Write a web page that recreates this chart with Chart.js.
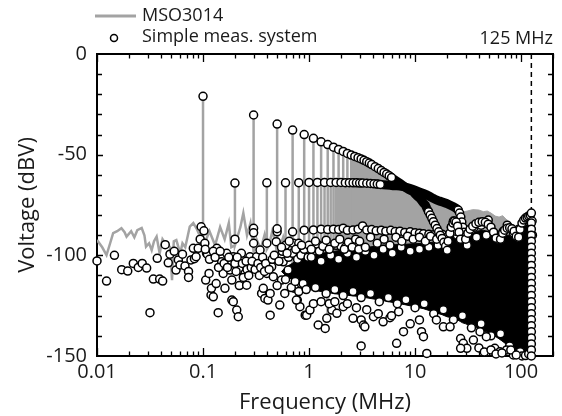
<!DOCTYPE html>
<html>
<head>
<meta charset="utf-8">
<script src="https://cdn.jsdelivr.net/npm/chart.js@4.4.1/dist/chart.umd.min.js"></script>
<style>
  html, body { margin: 0; padding: 0; background: #fff; }
</style>
</head>
<body>
<canvas id="spectrum" width="562" height="416"></canvas>
<script>
// axis ticks
const tickF = [0.01, 0.1, 1, 10, 100];
const tickDb = [0, -50, -100, -150];
const markerF = 125;

// MSO3014: noise floor below the fundamental
const msoNoiseF = [0.01, 0.0112, 0.0123, 0.0133, 0.0142, 0.0155, 0.017, 0.0182, 0.019, 0.021, 0.0225, 0.024, 0.0264, 0.028, 0.029, 0.031, 0.0328, 0.0345, 0.0365, 0.039, 0.0415, 0.044, 0.047, 0.049, 0.051, 0.053, 0.056, 0.061, 0.064, 0.068, 0.072, 0.075, 0.081, 0.087, 0.091, 0.094, 0.097];
const msoNoiseDb = [-92.4, -96, -99.9, -94, -89, -88, -86.5, -88.5, -90.7, -88, -91, -87.5, -86.4, -90, -95.7, -94, -97.4, -93, -90.7, -99, -92, -94, -95, -96, -112.3, -93, -92.4, -99, -94, -96, -90, -85.8, -84, -86.7, -89, -89, -94];

// MSO3014: harmonic lines 0.1 .. 2.5 MHz (peak and bottom of each line)
const harmF = [0.1, 0.2, 0.3, 0.4, 0.5, 0.6, 0.7, 0.8, 0.9, 1.0, 1.1, 1.2, 1.3, 1.4, 1.5, 1.6, 1.7, 1.8, 1.9, 2.0, 2.1, 2.2, 2.3, 2.4, 2.5];
const harmDb = [-21, -64.1, -30.3, -64, -34.8, -64, -37.8, -63.9, -40, -63.8, -41.9, -63.8, -43.6, -63.8, -45, -63.8, -46.3, -63.8, -47.4, -63.8, -48.4, -63.9, -49.4, -63.9, -50.2];
const harmBase = [-96, -95, -98, -97, -100, -96, -104, -125, -99, -98, -100, -97, -99, -98, -131, -100, -99, -97, -101, -99, -100, -98, -99, -100, -99];
const msoFloorF = [0.115, 0.13, 0.145, 0.16, 0.175, 0.185, 0.225, 0.24, 0.26, 0.28, 0.32, 0.35, 0.38, 0.42, 0.45, 0.48, 0.53, 0.57, 0.63, 0.67, 0.73, 0.77, 0.85, 0.95, 1.05, 1.15, 1.25, 1.35, 1.45, 1.55, 1.65, 1.75, 1.85, 1.95, 2.05, 2.15, 2.25, 2.35, 2.45];
const msoFloorDb = [-88, -95, -86, -92, -84, -96, -86, -79, -90, -84, -92, -97, -90, -95, -88, -93, -96, -91, -97, -92, -95, -98, -97, -96, -98, -97, -99, -97, -98, -99, -98, -99, -99, -98, -99, -100, -99, -98, -99];

// MSO3014: top of the dense band of harmonics above 2.5 MHz
const msoBandF = [2.5, 2.9, 3.5, 4.2, 5.0, 6.0, 7.2, 8.3, 9.6, 10.4, 11.5, 12.9, 14.5, 16, 18, 20, 22, 24, 26, 28, 31, 35, 40, 44, 48, 52, 57, 62, 67, 72, 76, 80, 84, 88, 92];
const msoBandDb = [-50.2, -51.5, -53.5, -56, -58.5, -61.4, -64.2, -66.7, -68.4, -68.5, -69.5, -70.5, -71.5, -72.5, -73.5, -74.3, -75.2, -76, -77, -78.5, -78, -77.3, -77.5, -78.3, -78, -79, -80.5, -81, -80.3, -82, -83, -84.5, -85.5, -87, -90];

// Simple meas. system: odd harmonics (separate points)
const oddF = [0.1, 0.3, 0.5, 0.7, 0.9, 1.1, 1.3, 1.5, 1.7, 1.9, 2.1, 2.3, 2.5, 2.7, 2.9, 3.1, 3.3, 3.5, 3.7, 3.9, 4.2, 4.5, 4.8, 5.1, 5.4, 5.7, 6.0, 13.4, 13.9, 14.4, 14.9, 15.5, 16.1, 16.7, 17.3, 18.0, 18.7, 19.4, 20.1];
const oddDb = [-21, -30.3, -34.8, -37.8, -40, -41.9, -43.6, -45, -46.3, -47.4, -48.4, -49.4, -50.2, -50.9, -51.5, -52.1, -52.8, -53.5, -54.2, -54.9, -56, -56.9, -57.9, -58.8, -59.6, -60.5, -61.4, -78.3, -80, -81.6, -83.3, -85, -86.7, -88.3, -90, -91.6, -93.5, -95.5, -97.5];
// odd harmonics where the points merge into a solid band
const oddBandF = [5.7, 6.0, 6.4, 6.8, 7.2, 7.6, 8.0, 8.4, 8.8, 9.2, 9.6, 10.0, 10.5, 11.1, 11.6, 12.0, 12.5, 12.9, 13.4];
const oddBandDb = [-60.5, -61.4, -62.4, -63.4, -64.2, -65.1, -66, -66.8, -67.4, -67.9, -68.4, -69.5, -70.6, -71.7, -73, -74, -75, -76.6, -78.3];

// Simple meas. system: even harmonics (separate points)
const evenF = [0.2, 0.4, 0.6, 0.8, 1.0, 1.2, 1.4, 1.6, 1.8, 2.0, 2.2, 2.4, 2.6, 2.8, 3.0, 3.2, 3.5, 3.8, 4.1, 4.4, 4.7, 25.5, 26.3, 27, 27.6, 28.2, 28.8, 29.4];
const evenDb = [-64.1, -64, -64, -63.9, -63.8, -63.8, -63.8, -63.8, -63.8, -63.8, -63.9, -63.9, -64, -64, -64.1, -64.1, -64.2, -64.3, -64.5, -64.6, -64.8, -77.5, -79, -81, -83.5, -86, -88.5, -91];
// even harmonics where the points merge into a solid band
const evenBandF = [4.4, 4.7, 5.0, 5.4, 5.8, 6.2, 6.7, 7.2, 7.7, 8.3, 8.9, 9.6, 10.4, 11.1, 12.0, 12.9, 13.8, 14.8, 15.9, 17.1, 18.4, 19.8, 21.3, 23.0, 24.3, 25.5];
const evenBandDb = [-64.6, -64.8, -64.9, -65.1, -65.2, -65.4, -65.5, -65.6, -65.9, -66.3, -66.7, -67.3, -68, -68.6, -69.3, -70, -70.8, -71.7, -72.5, -73.1, -73.6, -74.2, -75, -75.8, -76.6, -77.5];

// Simple meas. system: leakage rows next to the harmonics
const leakF = [0.096, 0.102, 0.3, 0.3, 0.5, 0.5, 0.7, 0.9, 1.1, 1.3, 1.5, 1.7, 1.9, 2.1, 2.3, 2.6, 2.9, 3.2, 3.5, 3.9, 4.3, 4.8, 5.3, 5.9, 6.5, 7.2, 8, 9, 10, 11, 12, 13.5, 15,
  0.2, 0.4, 0.6, 0.8, 1.0, 1.2, 1.4, 1.6, 1.8, 2.0, 2.2, 2.4];
const leakDb = [-85.8, -87.8, -86.6, -88.8, -88.3, -86.8, -88.3, -87.5, -87.4, -87, -87.2, -87, -87.2, -86.5, -87.6, -87.4, -87, -85.4, -87.4, -87.2, -87.8, -87.5, -88, -87.6, -88.2, -88, -88.6, -88.3, -88.8, -89, -89.3, -89.5, -89.8,
  -92, -94, -95, -94, -95, -94.5, -95, -95.5, -95, -95.5, -96, -95.8];

// Simple meas. system: scattered noise points below 1 MHz
const lowF = [0.01, 0.0123, 0.0146, 0.0171, 0.0195, 0.022, 0.0245, 0.0267, 0.0294, 0.0316, 0.034, 0.037, 0.039, 0.0416, 0.044, 0.047, 0.0488, 0.0535, 0.0556, 0.0585, 0.0607, 0.064, 0.0676, 0.073, 0.073, 0.077, 0.081, 0.083, 0.086, 0.09, 0.094,
  0.104, 0.106, 0.108, 0.11, 0.114, 0.119, 0.12, 0.125, 0.133, 0.135, 0.139, 0.15, 0.155, 0.161, 0.167, 0.18, 0.187, 0.187, 0.193, 0.193, 0.208, 0.215, 0.22, 0.22, 0.23, 0.249, 0.258, 0.267, 0.277, 0.3, 0.32, 0.345, 0.357, 0.37, 0.383, 0.4, 0.41, 0.43, 0.43, 0.444, 0.46, 0.49, 0.53, 0.55, 0.57, 0.59, 0.635, 0.71, 0.73, 0.775,
  0.105, 0.115, 0.125, 0.13, 0.14, 0.145, 0.158, 0.17, 0.175, 0.2, 0.205, 0.21, 0.235, 0.24, 0.255, 0.26, 0.27, 0.285, 0.29, 0.31, 0.33, 0.34, 0.35, 0.365, 0.38, 0.39, 0.42, 0.45,
  0.47, 0.5, 0.52, 0.56, 0.6, 0.64, 0.68, 0.7, 0.74, 0.78, 0.8, 0.84, 0.88, 0.9, 0.94, 0.98];
const lowDb = [-102.8, -112.8, -100, -107.1, -107.8, -104, -106, -104, -106.3, -128.5, -111.8, -101.5, -111.8, -112.8, -94.7, -103.7, -99.4, -98, -107.3, -102.3, -104.8, -99.4, -105.3, -108, -111, -102.3, -96.5, -101.7, -100.7, -96.5, -92,
  -94, -112.3, -99, -99.4, -109, -119.7, -116.4, -120.6, -114, -96.5, -128.5, -103.2, -109, -116.4, -99, -107.3, -112.3, -122.2, -100.7, -123, -127.2, -130.5, -107.3, -115, -99, -109, -114.8, -104, -100.7, -94, -100.7, -97.4, -118.9, -116.4, -121.4, -109, -122.2, -129.7, -118.9, -105.7, -110.6, -93.2, -124.7, -112.3, -103.2, -118.9, -107.3, -94, -116.4, -122.2,
  -97, -102, -98, -101, -106, -98, -104, -106, -101, -104, -108, -101, -104, -111, -103, -107, -110, -106, -103, -107, -104, -110, -106, -101, -108, -104, -107, -102,
  -100, -115, -103, -98, -112, -101, -116, -99, -113, -102, -118, -100, -114, -97, -117, -101];

// Simple meas. system: scattered points around the dense noise cloud
const fringeF = [0.82, 0.92, 0.95, 1.02, 1.22, 1.42, 1.47, 1.64, 1.83, 2.1, 2.6, 3.1, 3.26, 3.1, 3.36, 4.05, 5, 5.8, 6.7, 7.78, 9, 11, 11.5, 12, 12.9, 15.9, 18.5, 21.4, 26.9, 28.5, 30.8, 26.9, 35.5, 41, 47, 56.5, 63, 73, 84.5, 98, 102, 40, 45, 52, 58, 66, 80, 90, 110, 118,
  0.76, 1.1, 1.3, 1.55, 1.75, 2.3, 2.8, 3.5, 4.5, 6, 7,
  0.55, 0.62, 0.65, 0.75, 0.85, 1.05, 1.15, 1.25, 1.35, 1.45, 1.55, 1.75, 1.95, 2.15, 2.35, 2.55, 2.75, 2.95,
  3.0, 3.4, 3.8, 4.4, 5.1, 5.8, 6.6, 7.5, 8.5, 9.6, 11, 12.5, 14, 16, 18, 20, 22, 23, 24, 26, 32, 36, 42, 49, 74, 60, 68, 85, 95, 105, 115];
const fringeDb = [-125.5, -129.7, -129.7, -127.2, -134.6, -136.3, -131.3, -127.2, -128.8, -125.5, -131.3, -132.1, -134.6, -145, -135.5, -130.5, -133, -131, -143.7, -137.9, -134, -132.1, -137.9, -140.4, -148.7, -132.1, -135.5, -135.5, -141.3, -143.7, -146.2, -146.2, -142.1, -137.9, -140.4, -146.2, -147.9, -147, -149.5, -147.9, -150, -146, -148, -147, -149, -148.5, -147, -149.5, -149.8, -149,
  -122.2, -124, -123, -124, -123, -124, -126, -127, -129, -130, -128,
  -96, -99, -93, -97, -95, -97, -93, -98, -95.5, -92.5, -97, -94, -92, -97, -93.5, -96, -92, -97,
  -93, -96, -91, -94, -92, -95, -91, -93, -90.5, -92, -91, -93, -90.5, -92, -89.5, -91, -86, -83, -88, -84, -88, -86, -85, -82.5, -85, -90, -88, -89, -87, -84, -82];

// Simple meas. system: points showing just inside the cloud edges
const innerF = [1.05, 1.3, 1.6, 1.9, 2.3, 2.8, 3.4, 4.1, 5, 6.1, 7.4, 9, 11, 13.5, 16.5, 20, 25, 31, 38, 47,
  1.15, 1.45, 1.75, 2.1, 2.6, 3.1, 3.8, 4.6, 5.6, 6.8, 8.2, 10, 12.2, 15, 18.5, 23, 28, 34, 42, 52, 64, 78];
const innerDb = [-101, -103, -100, -102, -99, -101, -98, -100, -97, -99, -96, -98, -97, -96, -95, -93, -90, -95, -91, -90,
  -116, -119, -117, -120, -118, -121, -119, -123, -121, -124, -122, -126, -124, -129, -127, -132, -130, -136, -134, -140, -139, -145];

// Simple meas. system: side lobes above 20 MHz
const lobeF = [20.5, 21.3, 22, 22.8, 23.6, 24.4, 25.2, 26, 26.8, 30, 31.5, 33, 35, 37.5, 40, 43, 46, 49, 52, 55, 58, 64, 67, 70, 74, 78, 82, 86, 90, 95, 98, 102, 106, 110, 114, 118, 122, 125, 127, 128];
const lobeDb = [-93, -89, -86, -84, -83, -83.5, -85.5, -88.5, -92, -92, -89, -87, -85.5, -84.3, -83.6, -83.3, -83.6, -84.5, -86, -88.5, -91.5, -92, -89, -87.5, -86.5, -86.3, -86.8, -88, -90.5, -91, -87, -84, -82.5, -81.5, -81, -80.5, -80, -79, -83, -90];

// Simple meas. system: column of points at 125 MHz
const nyqDb = [-84, -87, -90, -93, -96, -99, -102, -105, -108, -111, -114, -117, -120, -123, -126, -129, -132, -135, -138, -141, -144, -147, -150];

// dense noise cloud of the simple system (upper and lower edge)
const cloudF = [0.55, 0.6, 0.8, 1, 1.5, 2, 3, 5, 8, 12, 18, 20, 22, 24, 26, 27, 28, 30, 33, 38, 44, 50, 55, 58, 62, 66, 72, 80, 88, 92, 96, 100, 106, 112, 118, 124, 127, 128.5, 130];
const cloudTop = [-108, -106, -102, -100, -98.5, -97.5, -96.5, -95, -94.5, -94, -93, -91, -88, -86, -88, -90, -92, -93, -90, -88, -87.5, -88.5, -91, -94, -94, -91, -90, -90, -91, -94, -91, -88, -86, -84.5, -84, -83.5, -86, -95, -148];
const cloudBottom = [-108, -110, -114, -117, -118.5, -119.5, -120.5, -122.5, -124.5, -126.5, -129.5, -130.5, -131, -131.5, -132.5, -133, -133.5, -134, -135, -136, -137.5, -138.5, -139.5, -140.5, -141.5, -142.5, -144, -146, -147.5, -148.5, -148.5, -148.5, -148.5, -148.5, -148.5, -148.5, -148.5, -148.5, -148.5];

const GRAY = '#a3a3a3';
const pts = (f, d) => f.map((x, i) => ({ x: x, y: d[i] }));

// build the MSO3014 trace: floor + vertical harmonic lines
const msoLine = pts(msoNoiseF, msoNoiseDb).concat(pts(msoFloorF, msoFloorDb));
harmF.forEach((f, i) => {
  msoLine.push({ x: f, y: harmBase[i] }, { x: f, y: harmDb[i] }, { x: f, y: harmBase[i] });
});
msoLine.sort((a, b) => a.x - b.x);

const circles = [].concat(
  pts(lowF, lowDb), pts(innerF, innerDb), pts(leakF, leakDb), pts(fringeF, fringeDb),
  pts(oddF, oddDb), pts(evenF, evenDb), pts(lobeF, lobeDb),
  nyqDb.map(d => ({ x: markerF, y: d }))
);

const frame = {
  id: 'frame',
  beforeDatasetsDraw(chart) {
    const { ctx, chartArea: a, scales: { x, y } } = chart;
    ctx.save();
    ctx.strokeStyle = '#000';
    ctx.lineWidth = 1.3;
    ctx.beginPath();
    for (let e = -2; e <= 2; e++) {
      for (let k = 1; k <= 9; k++) {
        const v = k * Math.pow(10, e);
        if (v > 200) continue;
        const px = Math.round(x.getPixelForValue(v)) + 0.5;
        const len = k === 1 ? 8 : 4.5;
        ctx.moveTo(px, a.bottom); ctx.lineTo(px, a.bottom - len);
        ctx.moveTo(px, a.top); ctx.lineTo(px, a.top + len);
      }
    }
    for (let v = -140; v < 0; v += 10) {
      const py = Math.round(y.getPixelForValue(v)) + 0.5;
      const len = v % 50 === 0 ? 6 : 5;
      ctx.moveTo(a.left, py); ctx.lineTo(a.left + len, py);
      ctx.moveTo(a.right, py); ctx.lineTo(a.right - len, py);
    }
    ctx.stroke();
    ctx.lineWidth = 2;
    ctx.strokeRect(a.left, a.top, a.right - a.left, a.bottom - a.top);
    ctx.restore();
  }
};

const legendBox = {
  id: 'legendBox',
  afterDraw(chart) {
    const { ctx, chartArea: a } = chart;
    const ds = chart.data.datasets;
    ctx.save();
    ctx.font = '18px "Open Sans"';
    ctx.fillStyle = '#1a1a1a';
    ctx.textBaseline = 'middle';
    ctx.strokeStyle = GRAY;
    ctx.lineWidth = 3;
    ctx.beginPath(); ctx.moveTo(95, 16); ctx.lineTo(136, 16); ctx.stroke();
    ctx.fillText(ds[ds.length - 1].label, 142, 16);
    ctx.beginPath(); ctx.arc(114, 38, 3.5, 0, Math.PI * 2);
    ctx.fillStyle = '#fff'; ctx.fill();
    ctx.strokeStyle = '#000'; ctx.lineWidth = 1.5; ctx.stroke();
    ctx.fillStyle = '#1a1a1a';
    ctx.fillText(ds[0].label, 142, 37);
    ctx.textAlign = 'right';
    ctx.fillText(markerF + ' MHz', a.right, 39);
    ctx.restore();
  }
};

const band = (label, data) => ({
  label: label,
  data: data,
  showLine: true,
  borderColor: '#000',
  borderWidth: 9,
  borderCapStyle: 'round',
  pointRadius: 0
});

Chart.defaults.font.family = '"Open Sans", sans-serif';
Chart.defaults.color = '#1a1a1a';

new Chart(document.getElementById('spectrum'), {
  type: 'scatter',
  data: {
    datasets: [
      {
        label: 'Simple meas. system',
        data: circles,
        pointRadius: 4,
        pointBorderWidth: 1.5,
        pointBorderColor: '#000',
        pointBackgroundColor: '#fff',
        clip: false
      },
      band('odd band', pts(oddBandF, oddBandDb)),
      band('even band', pts(evenBandF, evenBandDb)),
      {
        label: 'marker',
        data: [{ x: markerF, y: 0 }, { x: markerF, y: -150 }],
        showLine: true,
        borderColor: '#000',
        borderWidth: 1.5,
        borderDash: [5, 4],
        pointRadius: 0
      },
      {
        label: 'cloud',
        data: pts(cloudF, cloudTop),
        showLine: true,
        borderColor: '#000',
        borderWidth: 1,
        backgroundColor: '#000',
        fill: '+1',
        pointRadius: 0
      },
      {
        label: 'cloud low',
        data: pts(cloudF, cloudBottom),
        showLine: true,
        borderColor: '#000',
        borderWidth: 1,
        pointRadius: 0
      },
      {
        label: 'band',
        data: pts(msoBandF, msoBandDb),
        showLine: true,
        borderColor: GRAY,
        borderWidth: 1,
        backgroundColor: GRAY,
        fill: { value: -100 },
        pointRadius: 0
      },
      {
        label: 'MSO3014',
        data: msoLine,
        showLine: true,
        borderColor: GRAY,
        borderWidth: 2.5,
        pointRadius: 0
      }
    ]
  },
  options: {
    responsive: false,
    animation: false,
    devicePixelRatio: 1,
    layout: { padding: { top: 54, right: 9, left: 0, bottom: 0 } },
    plugins: {
      legend: { display: false },
      tooltip: { enabled: false }
    },
    scales: {
      x: {
        type: 'logarithmic',
        min: 0.01,
        max: 200,
        afterBuildTicks: s => { s.ticks = tickF.map(v => ({ value: v })); },
        afterFit: s => { s.height = 60; },
        grid: { display: false, drawTicks: false },
        border: { display: false },
        ticks: {
          font: { size: 20 },
          padding: 4,
          maxRotation: 0,
          autoSkip: false,
          callback: v => String(v)
        },
        title: {
          display: true,
          text: 'Frequency (MHz)',
          font: { size: 22 },
          padding: { top: 0, bottom: 0 }
        }
      },
      y: {
        min: -150,
        max: 0,
        afterBuildTicks: s => { s.ticks = tickDb.map(v => ({ value: v })); },
        afterFit: s => { s.width = 97; },
        grid: { display: false, drawTicks: false },
        border: { display: false },
        ticks: {
          font: { size: 20 },
          padding: 10,
          callback: v => String(v)
        },
        title: {
          display: true,
          text: 'Voltage (dBV)',
          font: { size: 22 },
          padding: { top: 15, bottom: 0 }
        }
      }
    }
  },
  plugins: [frame, legendBox]
});
</script>
</body>
</html>
